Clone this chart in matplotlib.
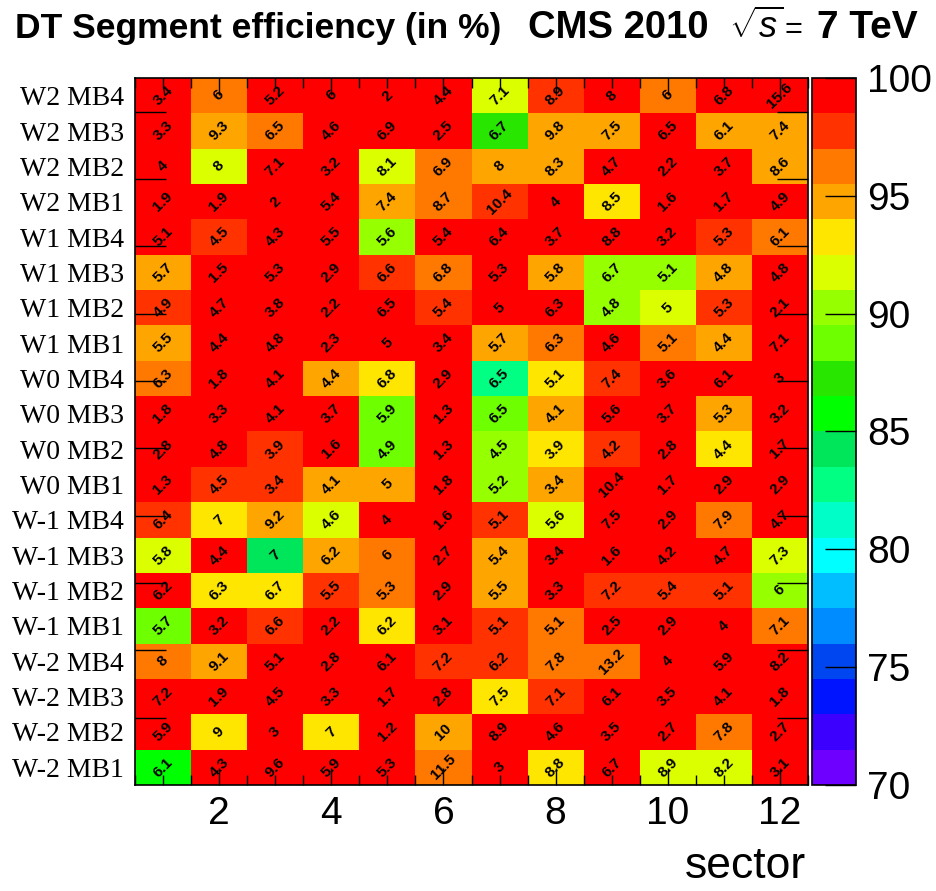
import numpy as np
import matplotlib
matplotlib.use("Agg")
import matplotlib.pyplot as plt
from matplotlib.colors import ListedColormap, BoundaryNorm
from matplotlib.ticker import MultipleLocator, FixedLocator, NullLocator

# ---------------- data ----------------
chambers = ["W2 MB4", "W2 MB3", "W2 MB2", "W2 MB1",
            "W1 MB4", "W1 MB3", "W1 MB2", "W1 MB1",
            "W0 MB4", "W0 MB3", "W0 MB2", "W0 MB1",
            "W-1 MB4", "W-1 MB3", "W-1 MB2", "W-1 MB1",
            "W-2 MB4", "W-2 MB3", "W-2 MB2", "W-2 MB1"]  # top to bottom
sectors = [1, 2, 3, 4, 5, 6, 7, 8, 9, 10, 11, 12]

# efficiency (%) per chamber (rows, top to bottom) and sector (columns)
efficiency = [
    [99.3, 96.2, 99.3, 99.3, 99.3, 99.3, 91.8, 97.8, 99.3, 96.2, 99.3, 99.3],
    [99.3, 94.8, 96.2, 99.3, 99.3, 99.3, 87.2, 94.8, 94.8, 99.3, 94.8, 94.8],
    [99.3, 91.8, 99.3, 99.3, 91.8, 96.2, 94.8, 94.8, 99.3, 99.3, 99.3, 94.8],
    [99.3, 99.3, 99.3, 99.3, 94.8, 96.2, 97.8, 99.3, 93.2, 99.3, 99.3, 99.3],
    [99.3, 97.8, 99.3, 99.3, 90.2, 99.3, 99.3, 99.3, 99.3, 99.3, 97.8, 96.2],
    [94.8, 99.3, 99.3, 99.3, 97.8, 96.2, 99.3, 94.8, 90.2, 90.2, 94.8, 99.3],
    [97.8, 99.3, 99.3, 99.3, 99.3, 97.8, 99.3, 99.3, 90.2, 91.8, 97.8, 99.3],
    [94.8, 99.3, 99.3, 99.3, 99.3, 99.3, 94.8, 96.2, 99.3, 96.2, 94.8, 99.3],
    [96.2, 99.3, 99.3, 94.8, 93.2, 99.3, 82.8, 93.2, 97.8, 99.3, 99.3, 99.3],
    [99.3, 99.3, 99.3, 99.3, 88.8, 99.3, 88.8, 94.8, 99.3, 99.3, 94.8, 99.3],
    [99.3, 99.3, 97.8, 99.3, 88.8, 99.3, 90.2, 93.2, 97.8, 99.3, 93.2, 99.3],
    [99.3, 97.8, 97.8, 94.8, 94.8, 99.3, 90.2, 94.8, 99.3, 99.3, 99.3, 99.3],
    [97.8, 93.2, 94.8, 91.8, 99.3, 99.3, 97.8, 91.8, 99.3, 99.3, 96.2, 99.3],
    [91.8, 99.3, 84.2, 94.8, 96.2, 99.3, 94.8, 99.3, 99.3, 99.3, 99.3, 91.8],
    [99.3, 93.2, 93.2, 97.8, 96.2, 99.3, 94.8, 99.3, 97.8, 97.8, 97.8, 90.2],
    [88.8, 99.3, 97.8, 99.3, 93.2, 99.3, 97.8, 96.2, 99.3, 99.3, 99.3, 96.2],
    [96.2, 94.8, 99.3, 99.3, 99.3, 97.8, 97.8, 96.2, 96.2, 99.3, 99.3, 99.3],
    [99.3, 99.3, 99.3, 99.3, 99.3, 99.3, 93.2, 97.8, 99.3, 99.3, 99.3, 99.3],
    [99.3, 93.2, 99.3, 93.2, 99.3, 94.8, 99.3, 99.3, 99.3, 99.3, 96.2, 99.3],
    [85.8, 99.3, 99.3, 99.3, 99.3, 96.2, 99.3, 93.2, 99.3, 91.8, 91.8, 99.3],
]

# numbers written in each cell
cell_values = [
    [3.4, 6, 5.2, 6, 2, 4.4, 7.1, 8.9, 8, 6, 6.8, 15.6],
    [3.3, 9.3, 6.5, 4.6, 6.9, 2.5, 6.7, 9.8, 7.5, 6.5, 6.1, 7.4],
    [4, 8, 7.1, 3.2, 8.1, 6.9, 8, 8.3, 4.7, 2.2, 3.7, 8.6],
    [1.9, 1.9, 2, 5.4, 7.4, 8.7, 10.4, 4, 8.5, 1.6, 1.7, 4.9],
    [5.1, 4.5, 4.3, 5.5, 5.6, 5.4, 6.4, 3.7, 8.8, 3.2, 5.3, 6.1],
    [5.7, 1.5, 5.3, 2.9, 6.6, 6.8, 5.3, 5.8, 6.7, 5.1, 4.8, 4.8],
    [4.9, 4.7, 3.8, 2.2, 6.5, 5.4, 5, 6.3, 4.8, 5, 5.3, 2.1],
    [5.5, 4.4, 4.8, 2.3, 5, 3.4, 5.7, 6.3, 4.6, 5.1, 4.4, 7.1],
    [6.3, 1.8, 4.1, 4.4, 6.8, 2.9, 6.5, 5.1, 7.4, 3.6, 6.1, 3],
    [1.8, 3.3, 4.1, 3.7, 5.9, 1.3, 6.5, 4.1, 5.6, 3.7, 5.3, 3.2],
    [2.8, 4.8, 3.9, 1.6, 4.9, 1.3, 4.5, 3.9, 4.2, 2.8, 4.4, 1.7],
    [1.3, 4.5, 3.4, 4.1, 5, 1.8, 5.2, 3.4, 10.4, 1.7, 2.9, 2.9],
    [6.4, 7, 9.2, 4.6, 4, 1.6, 5.1, 5.6, 7.5, 2.9, 7.9, 4.7],
    [5.8, 4.4, 7, 6.2, 6, 2.7, 5.4, 3.4, 1.6, 4.2, 4.7, 7.3],
    [6.2, 6.3, 6.7, 5.5, 5.3, 2.9, 5.5, 3.3, 7.2, 5.4, 5.1, 6],
    [5.7, 3.2, 6.6, 2.2, 6.2, 3.1, 5.1, 5.1, 2.5, 2.9, 4, 7.1],
    [8, 9.1, 5.1, 2.8, 6.1, 7.2, 6.2, 7.8, 13.2, 4, 5.9, 8.2],
    [7.2, 1.9, 4.5, 3.3, 1.7, 2.8, 7.5, 7.1, 6.1, 3.5, 4.1, 1.8],
    [5.9, 9, 3, 7, 1.2, 10, 8.9, 4.6, 3.5, 2.7, 7.8, 2.7],
    [6.1, 4.3, 9.6, 5.9, 5.3, 11.5, 3, 8.8, 6.7, 8.9, 8.2, 3.1],
]

sector_ticks = [2, 4, 6, 8, 10, 12]
cbar_ticks = [70, 75, 80, 85, 90, 95, 100]
z_min, z_max, n_levels = 70, 100, 20

# ROOT-like rainbow palette, 20 contours (low -> high)
palette = ["#6e00ff", "#3c00ff", "#0014ff", "#0046f0", "#008cff",
           "#00beff", "#00ffff", "#00ffc8", "#00ff82", "#00e65a",
           "#00ff00", "#28e600", "#6eff00", "#96ff00", "#dcff00",
           "#ffe600", "#ffa500", "#ff7800", "#ff3200", "#ff0000"]

# ---------------- figure ----------------
plt.rcParams['font.family'] = ['Liberation Sans', 'DejaVu Sans']
plt.rcParams['mathtext.fontset'] = 'custom'
plt.rcParams['mathtext.it'] = 'Liberation Sans:italic'
plt.rcParams['mathtext.rm'] = 'Liberation Sans'

W, H = 936, 891
fig = plt.figure(figsize=(W / 100, H / 100), dpi=100)
fig.patch.set_facecolor('white')

left, right, top, bottom = 135, 808, 78, 785
ax = fig.add_axes([left / W, 1 - bottom / H, (right - left) / W, (bottom - top) / H])
cax = fig.add_axes([812 / W, 1 - bottom / H, 44 / W, (bottom - top) / H])

cmap = ListedColormap(palette)
norm = BoundaryNorm(np.linspace(z_min, z_max, n_levels + 1), n_levels)

nrows = len(chambers)
Z = np.array(efficiency)[::-1]
xedges = np.arange(len(sectors) + 1) + 0.5
yedges = np.arange(nrows + 1)
mesh = ax.pcolormesh(xedges, yedges, Z, cmap=cmap, norm=norm)

for i, row in enumerate(cell_values):
    yc = nrows - 1 - i + 0.5
    for j, v in enumerate(row):
        ax.text(sectors[j], yc, f"{v:g}", rotation=45, ha='center', va='center',
                rotation_mode='anchor', fontsize=11, fontweight='bold', color='black')

ax.set_xlim(0.5, len(sectors) + 0.5)
ax.set_ylim(0, nrows)

# x axis
ax.xaxis.set_major_locator(FixedLocator(sector_ticks))
ax.xaxis.set_minor_locator(MultipleLocator(0.5))
ax.set_xticklabels([str(t) for t in sector_ticks])
ax.tick_params(axis='x', which='major', direction='in', length=12, width=1,
               top=True, bottom=True, labelsize=28, pad=8)
ax.tick_params(axis='x', which='minor', direction='in', length=7, width=1,
               top=True, bottom=True)

# y axis: chamber names at row centres, tick marks like ROOT numeric axis
ax.set_yticks(np.arange(nrows) + 0.5)
ax.set_yticklabels(chambers[::-1], family=['Liberation Serif', 'DejaVu Serif'], fontsize=20)
ax.tick_params(axis='y', which='major', length=0, pad=8)
ax.yaxis.set_minor_locator(FixedLocator(np.arange(1, 11) * 1.905))
ax.tick_params(axis='y', which='minor', direction='in', length=22, width=1,
               left=True, right=True)

for s in ax.spines.values():
    s.set_linewidth(1.2)
    s.set_color('black')

# colour bar
cb = fig.colorbar(mesh, cax=cax, ticks=cbar_ticks)
cb.outline.set_linewidth(1.2)
cax.yaxis.set_minor_locator(NullLocator())
cax.tick_params(axis='y', direction='in', length=22, width=1, right=True, left=False,
                labelsize=28, pad=8)

# texts
fig.text(806 / W, 1 - 867 / H, "sector", ha='right', va='center', fontsize=32)
yb = 1 - 38 / H
fig.text(15 / W, yb, "DT Segment efficiency (in %)", ha='left', va='baseline',
         fontsize=25.5, fontweight='bold')
fig.text(528 / W, yb, "CMS 2010", ha='left', va='baseline',
         fontsize=27.5, fontweight='bold')
fig.text(729 / W, yb, r"$\sqrt{s}$", ha='left', va='baseline', fontsize=26)
fig.text(784 / W, yb, "=", ha='left', va='baseline', fontsize=22)
fig.text(918 / W, yb, "7 TeV", ha='right', va='baseline',
         fontsize=28, fontweight='bold')

fig.savefig("out.png", dpi=100, facecolor='white')
